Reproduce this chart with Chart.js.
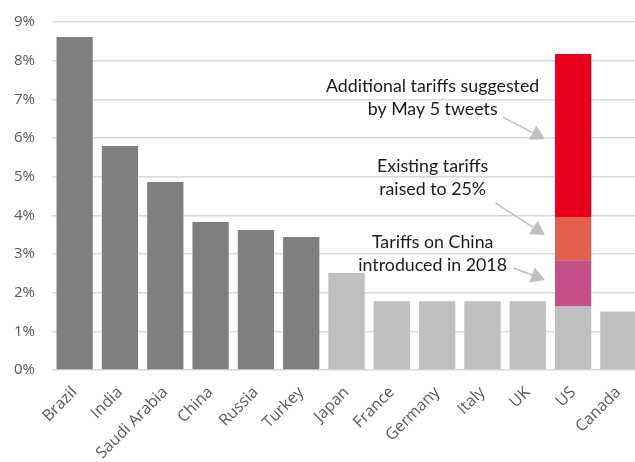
<!DOCTYPE html>
<html>
<head>
<meta charset="utf-8">
<script src="https://cdn.jsdelivr.net/npm/chart.js@4"></script>
<style>
  html, body { margin: 0; padding: 0; background: #fff; overflow: hidden; }
  #wrap { width: 645px; height: 462px; position: relative; }
</style>
</head>
<body>
<div id="wrap"><canvas id="c"></canvas></div>
<script>
const categories = ["Brazil", "India", "Saudi Arabia", "China", "Russia", "Turkey", "Japan", "France", "Germany", "Italy", "UK", "US", "Canada"];
const baseValues = [8.61, 5.79, 4.86, 3.83, 3.62, 3.44, 2.51, 1.78, 1.78, 1.78, 1.78, 1.64, 1.51];
const tariffs2018 = [null, null, null, null, null, null, null, null, null, null, null, 1.20, null];
const raisedTo25 = [null, null, null, null, null, null, null, null, null, null, null, 1.12, null];
const tweetTariffs = [null, null, null, null, null, null, null, null, null, null, null, 4.21, null];
const yTicks = [0, 1, 2, 3, 4, 5, 6, 7, 8, 9];
const annotations = [
  { lines: ["Additional tariffs suggested", "by May 5 tweets"], y: 7.34, from: [-1.55, 6.54], to: [-0.62, 5.97] },
  { lines: ["Existing tariffs", "raised to 25%"], y: 5.28, from: [-1.72, 4.32], to: [-0.62, 3.49] },
  { lines: ["Tariffs on China", "introduced in 2018"], y: 3.3, from: [-1.32, 2.64], to: [-0.62, 2.33] }
];
const annotationIndex = 11;

const darkCount = 6;
const baseColors = baseValues.map((v, i) => i < darkCount ? "#7f7f7f" : "#bfbfbf");
const FONT = "Lato, 'Open Sans', sans-serif";
const AXFONT = "'Open Sans', Lato, sans-serif";

const annotationPlugin = {
  id: "notes",
  afterDatasetsDraw(chart) {
    const ctx = chart.ctx;
    const xs = chart.scales.x, ys = chart.scales.y;
    const unit = xs.getPixelForValue(1) - xs.getPixelForValue(0);
    const cx = xs.getPixelForValue(annotationIndex);
    ctx.save();
    annotations.forEach((a) => {
      ctx.font = "17.8px " + FONT;
      ctx.fillStyle = "#1a1a1a";
      ctx.textAlign = "center";
      ctx.textBaseline = "middle";
      const tx = cx - unit * 3.1;
      const ty = ys.getPixelForValue(a.y);
      a.lines.forEach((l, j) => ctx.fillText(l, tx, ty + j * 23));
      const x1 = cx + a.from[0] * unit, y1 = ys.getPixelForValue(a.from[1]);
      const x2 = cx + a.to[0] * unit, y2 = ys.getPixelForValue(a.to[1]);
      const ang = Math.atan2(y2 - y1, x2 - x1);
      const hl = 14, hw = 8;
      const bx = x2 - hl * Math.cos(ang), by = y2 - hl * Math.sin(ang);
      ctx.strokeStyle = "#bfbfbf";
      ctx.fillStyle = "#bfbfbf";
      ctx.lineWidth = 1.5;
      ctx.beginPath(); ctx.moveTo(x1, y1); ctx.lineTo(bx, by); ctx.stroke();
      ctx.beginPath();
      ctx.moveTo(x2, y2);
      ctx.lineTo(bx + hw * Math.sin(ang), by - hw * Math.cos(ang));
      ctx.lineTo(bx - hw * Math.sin(ang), by + hw * Math.cos(ang));
      ctx.closePath(); ctx.fill();
    });
    ctx.restore();
  }
};

new Chart(document.getElementById("c"), {
  type: "bar",
  data: {
    labels: categories,
    datasets: [
      { label: "Base", data: baseValues, backgroundColor: baseColors },
      { label: "Tariffs on China introduced in 2018", data: tariffs2018, backgroundColor: "#c25087" },
      { label: "Existing tariffs raised to 25%", data: raisedTo25, backgroundColor: "#e3604f" },
      { label: "Additional tariffs suggested by May 5 tweets", data: tweetTariffs, backgroundColor: "#e8001d" }
    ]
  },
  options: {
    responsive: true,
    maintainAspectRatio: false,
    animation: false,
    layout: { padding: { top: 22, right: 0, left: 0, bottom: 0 } },
    plugins: { legend: { display: false }, tooltip: { enabled: false } },
    datasets: { bar: { categoryPercentage: 1, barPercentage: 0.8, borderWidth: 0 } },
    scales: {
      x: {
        stacked: true,
        grid: { display: false, drawTicks: false },
        border: { display: false },
        ticks: {
          color: "#595959",
          font: { family: AXFONT, size: 16 },
          minRotation: 45, maxRotation: 45,
          autoSkip: false,
          padding: 13
        },
        afterFit(s) { s.height = 92; }
      },
      y: {
        stacked: true,
        min: 0, max: 9,
        afterBuildTicks(s) { s.ticks = yTicks.map(v => ({ value: v })); },
        grid: { color: "#d9d9d9", lineWidth: 1.5, drawTicks: false },
        border: { display: false },
        ticks: {
          color: "#595959",
          font: { family: AXFONT, size: 15 },
          padding: 17,
          callback: v => v + "%"
        },
        afterFit(s) { s.width = 52; s.paddingTop = 0; s.paddingBottom = 0; }
      }
    }
  },
  plugins: [annotationPlugin]
});
</script>
</body>
</html>
